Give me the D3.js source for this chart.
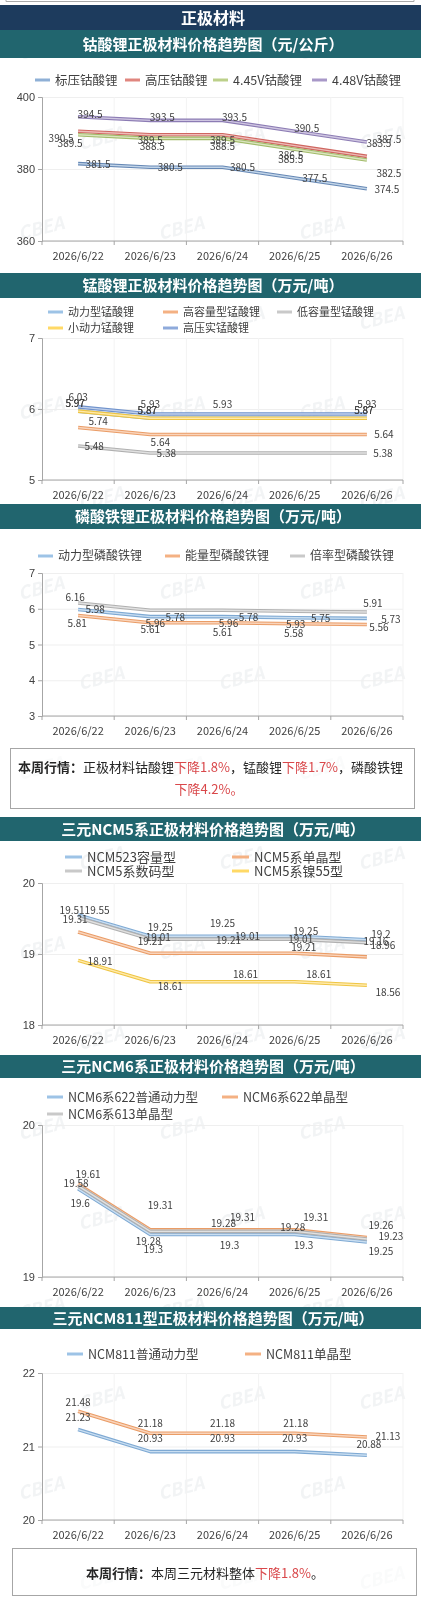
<!DOCTYPE html>
<html>
<head>
<meta charset="utf-8">
<script src="https://cdn.jsdelivr.net/npm/d3@7"></script>
<style>
body{margin:0;background:#fff;}
svg{display:block;font-family:"Noto Sans CJK SC","Noto Sans",sans-serif;}
</style>
</head>
<body>
<svg id="page" width="421" height="1600"></svg>
<script>
// ---- data ----
var dates = ["2026/6/22","2026/6/23","2026/6/24","2026/6/25","2026/6/26"];

var licoNames = ["标压钴酸锂","高压钴酸锂","4.45V钴酸锂","4.48V钴酸锂"];
var licoValues = [
  [381.5,380.5,380.5,377.5,374.5],
  [390.5,389.5,389.5,386.5,383.5],
  [389.5,388.5,388.5,385.5,382.5],
  [394.5,393.5,393.5,390.5,387.5]
];
var licoTicks = [360,380,400];

var lmoNames = ["动力型锰酸锂","高容量型锰酸锂","低容量型锰酸锂","小动力锰酸锂","高压实锰酸锂"];
var lmoValues = [
  [5.97,5.87,5.87,5.87,5.87],
  [5.74,5.64,5.64,5.64,5.64],
  [5.48,5.38,5.38,5.38,5.38],
  [5.97,5.87,5.87,5.87,5.87],
  [6.03,5.93,5.93,5.93,5.93]
];
var lmoTicks = [5,6,7];

var lfpNames = ["动力型磷酸铁锂","能量型磷酸铁锂","倍率型磷酸铁锂"];
var lfpValues = [
  [5.98,5.78,5.78,5.75,5.73],
  [5.81,5.61,5.61,5.58,5.56],
  [6.16,5.96,5.96,5.93,5.91]
];
var lfpTicks = [3,4,5,6,7];

var ncm5Names = ["NCM523容量型","NCM5系单晶型","NCM5系数码型","NCM5系镍55型"];
var ncm5Values = [
  [19.55,19.25,19.25,19.25,19.2],
  [19.31,19.01,19.01,19.01,18.96],
  [19.51,19.21,19.21,19.21,19.16],
  [18.91,18.61,18.61,18.61,18.56]
];
var ncm5Ticks = [18,19,20];

var ncm6Names = ["NCM6系622普通动力型","NCM6系622单晶型","NCM6系613单晶型"];
var ncm6Values = [
  [19.58,19.28,19.28,19.28,19.23],
  [19.61,19.31,19.31,19.31,19.26],
  [19.6,19.3,19.3,19.3,19.25]
];
var ncm6Ticks = [19,20];

var ncm811Names = ["NCM811普通动力型","NCM811单晶型"];
var ncm811Values = [
  [21.23,20.93,20.93,20.93,20.88],
  [21.48,21.18,21.18,21.18,21.13]
];
var ncm811Ticks = [20,21,22];

// ---- drawing ----
var svg = d3.select("#page");
var barColor = "#21656e";

// faint watermark layer, kept inside the page
var wm = svg.append("g").attr("fill","#e3e6e9").attr("opacity",0.45)
  .style("font-style","italic").style("font-weight","bold").style("font-size","18px");
for (var r = 0; r < 18; r++) {
  for (var c = 0; c < 3; c++) {
    var wx = 20 + c*140 + (r%2)*60, wy = 60 + r*90;
    if (wx > 360) continue;
    wm.append("text").attr("x",wx).attr("y",wy)
      .attr("transform","rotate(-14,"+wx+","+wy+")").text("CBEA");
  }
}

// top remnant of previous box
svg.append("path").attr("d","M6,-2V1.5H414V-2").attr("fill","none").attr("stroke","#aaa");

svg.append("rect").attr("x",0).attr("y",5).attr("width",421).attr("height",25).attr("fill","#1d3b5d");
svg.append("text").attr("x",213).attr("y",23.5).attr("text-anchor","middle")
  .attr("fill","#fff").style("font-size","16px").style("font-weight","bold").text("正极材料");

function titleBar(y0, h, txt) {
  svg.append("rect").attr("x",0).attr("y",y0).attr("width",421).attr("height",h).attr("fill",barColor);
  svg.append("text").attr("x",213).attr("y",y0+h/2+5.5).attr("text-anchor","middle")
    .attr("fill","#fff").style("font-size","15px").style("font-weight","bold").text(txt);
}

function drawChart(o) {
  titleBar(o.barY, o.barH, o.title);
  var g = svg.append("g");
  var x = d3.scaleBand().domain(dates).range([42,403]);
  var y = d3.scaleLinear().domain([o.ticks[0], o.ticks[o.ticks.length-1]]).range([o.yBottom,o.yTop]);

  // grid
  g.append("g").attr("transform","translate(42,0)")
    .call(d3.axisLeft(y).tickValues(o.ticks).tickSize(-361).tickFormat(""))
    .call(function(s){ s.select(".domain").remove(); s.selectAll("line").attr("stroke","#efefef"); });
  var edges = dates.map(function(d){ return x(d); }).concat([403]);
  g.selectAll(".vg").data(edges.slice(1)).enter().append("line")
    .attr("x1",function(d){return d;}).attr("x2",function(d){return d;})
    .attr("y1",o.yTop).attr("y2",o.yBottom).attr("stroke","#f3f3f3");

  // y axis
  g.append("g").attr("transform","translate(42,0)")
    .call(d3.axisLeft(y).tickValues(o.ticks).tickSize(4).tickPadding(3).tickFormat(function(d){return d;}))
    .call(function(s){
      s.select(".domain").attr("stroke","#a6a6a6");
      s.selectAll("line").attr("stroke","#a6a6a6");
      s.selectAll("text").attr("fill","#404040").style("font-size","11px").style("font-family","inherit");
    });
  // x axis
  g.append("line").attr("x1",42).attr("x2",403).attr("y1",o.yBottom).attr("y2",o.yBottom).attr("stroke","#a6a6a6");
  g.selectAll(".xt").data(edges).enter().append("line")
    .attr("x1",function(d){return d;}).attr("x2",function(d){return d;})
    .attr("y1",o.yBottom).attr("y2",o.yBottom+4).attr("stroke","#a6a6a6");
  g.selectAll(".xl").data(dates).enter().append("text")
    .attr("x",function(d){return x(d)+x.bandwidth()/2;}).attr("y",o.yBottom+19)
    .attr("text-anchor","middle").attr("fill","#404040").style("font-size","11px").text(function(d){return d;});

  // legend
  o.names.forEach(function(n,i){
    var p = o.legendPos[i];
    g.append("line").attr("x1",p[0]).attr("x2",p[0]+o.swatch).attr("y1",p[1]).attr("y2",p[1])
      .attr("stroke",o.colors[i]).attr("stroke-width",3);
    g.append("text").attr("x",p[0]+o.swatch+5).attr("y",p[1]+o.legendFont*0.36)
      .attr("fill","#404040").style("font-size",o.legendFont+"px").text(n);
  });

  // lines (double stroke look)
  var line = d3.line()
    .x(function(d,i){ return x(dates[i])+x.bandwidth()/2; })
    .y(function(d){ return y(d); });
  o.values.forEach(function(vals,i){
    g.append("path").datum(vals).attr("d",line).attr("fill","none")
      .attr("stroke",o.dark[i]).attr("stroke-width",3.6).attr("stroke-linejoin","round");
    g.append("path").datum(vals).attr("d",line).attr("fill","none")
      .attr("stroke",d3.interpolateRgb(o.colors[i],"#fff")(0.45)).attr("stroke-width",1.4);
  });

  // value labels
  o.values.forEach(function(vals,i){
    var off = o.offsets[i];
    vals.forEach(function(v,j){
      if (o.show && o.show[i] && o.show[i].indexOf(j) < 0) return;
      var d = Array.isArray(off[0]) ? off[j] : off;
      g.append("text")
        .attr("x",x(dates[j])+x.bandwidth()/2+d[0]).attr("y",y(v)+d[1])
        .attr("text-anchor","middle").attr("fill","#404040").style("font-size","10px")
        .text(v);
    });
  });
}

drawChart({
  barY:30, barH:28, title:"钴酸锂正极材料价格趋势图（元/公斤）",
  names:licoNames, values:licoValues, ticks:licoTicks, yTop:97, yBottom:241,
  colors:["#8fb0d6","#e0867f","#bcd08a","#a898c8"],
  dark:["#6688b5","#cf6660","#a2bb6a","#8c7cb4"],
  legendPos:[[35,80],[125,80],[213,80],[312,80]], swatch:15, legendFont:12.5,
  offsets:[[20,4],
    [[-17,11],[0,9],[0,9],[-4,13],[12,-9]],
    [[-8,12],[2,12],[0,12],[-4,14],[22,17]],
    [[12,1],[12,1],[12,1],[12,1],[22,1]]]
});

drawChart({
  barY:273, barH:25, title:"锰酸锂正极材料价格趋势图（万元/吨）",
  names:lmoNames, values:lmoValues, ticks:lmoTicks, yTop:338, yBottom:480,
  colors:["#9dc3e6","#f4b183","#c9c9c9","#ffd966","#8eaadb"],
  dark:["#7ea9d3","#ea9c66","#b0b0b0","#efc543","#6f92cc"],
  legendPos:[[48,312],[163,312],[277,312],[48,328],[163,328]], swatch:15, legendFont:11,
  offsets:[[-3,-4],[[20,-2],[10,11],[10,11],[10,11],[17,3]],[16,4],[-3,-4],[0,-6]],
  show:[[0,1,4],[0,1,4],[0,1,4],[0,1,4],[0,1,2,4]]
});

drawChart({
  barY:504, barH:25, title:"磷酸铁锂正极材料价格趋势图（万元/吨）",
  names:lfpNames, values:lfpValues, ticks:lfpTicks, yTop:573, yBottom:716,
  colors:["#9dc3e6","#f4b183","#c9c9c9"],
  dark:["#7ea9d3","#ea9c66","#b0b0b0"],
  legendPos:[[38,556],[165,556],[290,556]], swatch:15, legendFont:12,
  offsets:[[[17,4],[25,4],[26,4],[26,4],[24,5]],
    [[-1,11],[0,10],[0,13],[-1,13],[12,7]],
    [[-3,-2],[5,17],[6,17],[1,17],[6,-5]]]
});

// summary box 1
svg.append("rect").attr("x",10.5).attr("y",748.5).attr("width",404).attr("height",60)
  .attr("fill","#fff").attr("fill-opacity",0.6).attr("stroke","#a6a6a6");
var t1 = svg.append("text").attr("x",18).attr("y",772).style("font-size","13px").attr("fill","#262626");
t1.append("tspan").style("font-weight","bold").text("本周行情：");
t1.append("tspan").text("正极材料钴酸锂");
t1.append("tspan").attr("fill","#d9474a").text("下降1.8%");
t1.append("tspan").text("，锰酸锂");
t1.append("tspan").attr("fill","#d9474a").text("下降1.7%");
t1.append("tspan").text("，磷酸铁锂");
svg.append("text").attr("x",209).attr("y",794).attr("text-anchor","middle")
  .style("font-size","13px").attr("fill","#d9474a").text("下降4.2%。");

drawChart({
  barY:817, barH:24, title:"三元NCM5系正极材料价格趋势图（万元/吨）",
  names:ncm5Names, values:ncm5Values, ticks:ncm5Ticks, yTop:883, yBottom:1025,
  colors:["#9dc3e6","#f4b183","#c9c9c9","#ffd966"],
  dark:["#7ea9d3","#ea9c66","#b0b0b0","#efc543"],
  legendPos:[[65,857],[232,857],[65,871],[232,871]], swatch:17, legendFont:13,
  offsets:[[[19,-1],[10,-5],[0,-9],[11,-1],[14,-2]],
    [[-3,-9],[8,-12],[25,-13],[6,-10],[16,-8]],
    [[-6,-4],[0,6],[6,5],[9,12],[9,2]],
    [[22,5],[20,8],[23,-4],[24,-4],[21,11]]]
});

drawChart({
  barY:1055, barH:23, title:"三元NCM6系正极材料价格趋势图（万元/吨）",
  names:ncm6Names, values:ncm6Values, ticks:ncm6Ticks, yTop:1125, yBottom:1277,
  colors:["#9dc3e6","#f4b183","#c9c9c9"],
  dark:["#7ea9d3","#ea9c66","#b0b0b0"],
  legendPos:[[47,1097],[222,1097],[47,1114]], swatch:16, legendFont:12.5,
  offsets:[[[-2,-2],[-2,11],[1,-7],[-2,-3],[24,-2]],
    [[10,-6],[10,-21],[20,-9],[21,-9],[14,-8]],
    [[2,21],[3,22],[7,18],[9,18],[14,16]]]
});

drawChart({
  barY:1307, barH:22, title:"三元NCM811型正极材料价格趋势图（万元/吨）",
  names:ncm811Names, values:ncm811Values, ticks:ncm811Ticks, yTop:1373, yBottom:1520,
  colors:["#9dc3e6","#f4b183"],
  dark:["#7ea9d3","#ea9c66"],
  legendPos:[[67,1354],[245,1354]], swatch:16, legendFont:12.5,
  offsets:[[[0,-9],[0,-10],[0,-10],[0,-10],[2,-7]],
    [[0,-5],[0,-6],[0,-6],[1,-6],[21,3]]]
});

// summary box 2
svg.append("rect").attr("x",12.5).attr("y",1548.5).attr("width",404).attr("height",47)
  .attr("fill","#fff").attr("fill-opacity",0.6).attr("stroke","#a6a6a6");
var t2 = svg.append("text").attr("x",205).attr("y",1578).attr("text-anchor","middle")
  .style("font-size","13px").attr("fill","#262626");
t2.append("tspan").style("font-weight","bold").text("本周行情：");
t2.append("tspan").text("本周三元材料整体");
t2.append("tspan").attr("fill","#d9474a").text("下降1.8%");
t2.append("tspan").text("。");
</script>
</body>
</html>
